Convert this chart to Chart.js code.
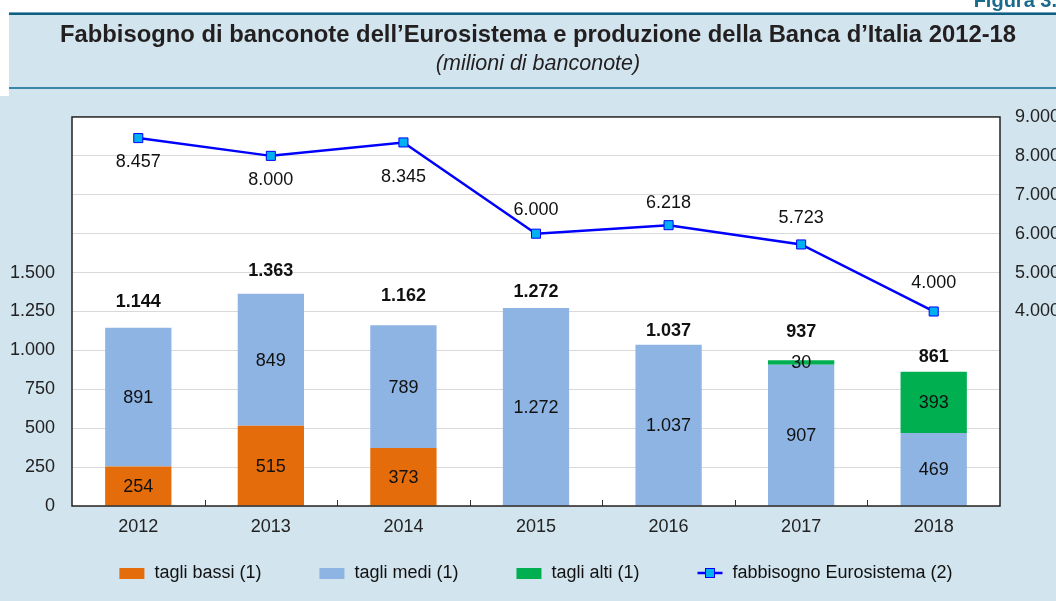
<!DOCTYPE html>
<html>
<head>
<meta charset="utf-8">
<script src="https://cdn.jsdelivr.net/npm/chart.js@4.4.1/dist/chart.umd.min.js"></script>
<style>
  html, body { margin: 0; padding: 0; background: #d2e4ee; overflow: hidden; }
  canvas { display: block; }
</style>
</head>
<body>
<canvas id="myChart" width="1056" height="601"></canvas>
<script>
const anni = ['2012', '2013', '2014', '2015', '2016', '2017', '2018'];
const tagliBassi = [254, 515, 373, null, null, null, null];
const tagliMedi = [891, 849, 789, 1272, 1037, 907, 469];
const tagliAlti = [null, null, null, null, null, 30, 393];
const totali = [1144, 1363, 1162, 1272, 1037, 937, 861];
const fabbisogno = [8457, 8000, 8345, 6000, 6218, 5723, 4000];
const tickSinistra = [0, 250, 500, 750, 1000, 1250, 1500];
const tickDestra = [4000, 5000, 6000, 7000, 8000, 9000];

const FONT = '"Liberation Sans", Arial, sans-serif';
const fmt = n => String(n).replace(/\B(?=(\d{3})+(?!\d))/g, '.');

// sfondo, fasce del titolo, area bianca
const sfondo = {
  id: 'sfondo',
  beforeDraw(chart) {
    const { ctx, width, height, chartArea: a } = chart;
    ctx.save();
    ctx.fillStyle = '#d2e4ee';
    ctx.fillRect(0, 0, width, height);
    ctx.fillStyle = '#ffffff';
    ctx.fillRect(0, 0, width, 12);
    ctx.fillRect(0, 0, 9, 96);
    ctx.fillStyle = '#0f5f82';
    ctx.fillRect(9, 12.5, width, 2.5);
    ctx.fillStyle = '#3b87aa';
    ctx.fillRect(9, 87, width, 2);
    ctx.fillStyle = '#ffffff';
    ctx.fillRect(a.left, a.top, a.right - a.left, a.bottom - a.top);
    ctx.fillStyle = '#1a6a8e';
    ctx.font = 'bold 20px ' + FONT;
    ctx.textAlign = 'right';
    ctx.textBaseline = 'alphabetic';
    ctx.fillText('Figura 3.', width + 1, 7);
    ctx.restore();
  },
  afterDatasetsDraw(chart) {
    const { ctx, chartArea: a, scales: { x } } = chart;
    ctx.save();
    // tacche tra le categorie
    ctx.strokeStyle = '#333';
    ctx.lineWidth = 1;
    const half = (x.getPixelForValue(1) - x.getPixelForValue(0)) / 2;
    for (let i = 0; i < anni.length - 1; i++) {
      const px = Math.round(x.getPixelForValue(i) + half) + 0.5;
      ctx.beginPath();
      ctx.moveTo(px, a.bottom);
      ctx.lineTo(px, a.bottom - 6);
      ctx.stroke();
    }
    ctx.strokeStyle = '#222';
    ctx.lineWidth = 1.5;
    ctx.strokeRect(a.left, a.top, a.right - a.left, a.bottom - a.top);
    ctx.restore();
  }
};

// etichette dei valori
const etichette = {
  id: 'etichette',
  afterDatasetsDraw(chart) {
    const { ctx, scales: { x, y, yDestra } } = chart;
    const offTotali = [26, 23, 29, 16, 14, 28, 15];
    const offLinea = [24, 24, 35, -24, -22, -26, -28];
    ctx.save();
    ctx.textAlign = 'center';
    ctx.textBaseline = 'middle';
    ctx.fillStyle = '#111';
    ctx.font = '18px ' + FONT;
    [1, 2, 3].forEach(di => {
      const meta = chart.getDatasetMeta(di);
      meta.data.forEach((bar, i) => {
        const v = chart.data.datasets[di].data[i];
        if (v == null) return;
        ctx.fillText(fmt(v), bar.x, (bar.y + bar.base) / 2 + 1);
      });
    });
    ctx.font = 'bold 18px ' + FONT;
    totali.forEach((t, i) => {
      const top = y.getPixelForValue((tagliBassi[i] || 0) + (tagliMedi[i] || 0) + (tagliAlti[i] || 0));
      ctx.fillText(fmt(t), x.getPixelForValue(i), top - offTotali[i]);
    });
    ctx.font = '18px ' + FONT;
    fabbisogno.forEach((v, i) => {
      ctx.fillText(fmt(v), x.getPixelForValue(i), yDestra.getPixelForValue(v) + offLinea[i]);
    });
    ctx.restore();
  }
};

// legenda disegnata sotto il grafico
const legenda = {
  id: 'legenda',
  afterDraw(chart) {
    const { ctx, chartArea: a } = chart;
    const items = [1, 2, 3, 0].map(i => chart.data.datasets[i]);
    ctx.save();
    ctx.font = '18px ' + FONT;
    ctx.textBaseline = 'middle';
    ctx.textAlign = 'left';
    const box = 25, gapText = 10, gapItem = 58, cy = 573;
    const widths = items.map(d => box + gapText + ctx.measureText(d.label).width);
    const total = widths.reduce((s, w) => s + w, 0) + gapItem * (items.length - 1);
    let cx = (a.left + a.right) / 2 - total / 2;
    items.forEach((d, k) => {
      if (d.type === 'line') {
        ctx.strokeStyle = d.borderColor;
        ctx.lineWidth = 2.5;
        ctx.beginPath();
        ctx.moveTo(cx, cy);
        ctx.lineTo(cx + box, cy);
        ctx.stroke();
        ctx.fillStyle = d.pointBackgroundColor;
        ctx.fillRect(cx + box / 2 - 4.5, cy - 4.5, 9, 9);
        ctx.lineWidth = 1;
        ctx.strokeRect(cx + box / 2 - 4.5, cy - 4.5, 9, 9);
      } else {
        ctx.fillStyle = d.backgroundColor;
        ctx.fillRect(cx, cy - 5, box, 11);
      }
      ctx.fillStyle = '#111';
      ctx.fillText(d.label, cx + box + gapText, cy);
      cx += widths[k] + gapItem;
    });
    ctx.restore();
  }
};

const ctx = document.getElementById('myChart').getContext('2d');

const myChart = new Chart(ctx, {
  type: 'bar',
  data: {
    labels: anni,
    datasets: [{
      type: 'line',
      label: 'fabbisogno Eurosistema (2)',
      data: fabbisogno,
      yAxisID: 'yDestra',
      borderColor: '#0000ff',
      borderWidth: 2.5,
      pointStyle: 'rect',
      pointRadius: 6.4,
      pointBackgroundColor: '#00b0f0',
      pointBorderColor: '#0000ff',
      pointBorderWidth: 1,
      tension: 0,
      order: 0
    }, {
      label: 'tagli bassi (1)',
      data: tagliBassi,
      backgroundColor: '#e46c0a',
      stack: 'banconote',
      order: 1
    }, {
      label: 'tagli medi (1)',
      data: tagliMedi,
      backgroundColor: '#8eb4e3',
      stack: 'banconote',
      order: 1
    }, {
      label: 'tagli alti (1)',
      data: tagliAlti,
      backgroundColor: '#00b050',
      stack: 'banconote',
      order: 1
    }]
  },
  options: {
    responsive: false,
    animation: false,
    datasets: {
      bar: { barPercentage: 0.5, categoryPercentage: 1.0 }
    },
    // il riquadro si estende oltre il bordo destro (etichette tagliate)
    layout: { padding: { left: 0, right: -20, top: 0, bottom: 0 } },
    plugins: {
      legend: { display: false },
      tooltip: { enabled: false },
      title: {
        display: true,
        text: 'Fabbisogno di banconote dell\u2019Eurosistema e produzione della Banca d\u2019Italia 2012-18',
        color: '#231f20',
        font: { family: FONT, size: 23.8, weight: 'bold' },
        padding: { top: 21, bottom: 1.5 }
      },
      subtitle: {
        display: true,
        text: '(milioni di banconote)',
        color: '#231f20',
        font: { family: FONT, size: 21.5, style: 'italic' },
        padding: { top: 0, bottom: 40.1 }
      }
    },
    scales: {
      x: {
        stacked: true,
        grid: { display: false, drawTicks: false },
        border: { display: false },
        ticks: { color: '#222', font: { family: FONT, size: 18 }, padding: 10 },
        afterFit(scale) { scale.height = 95; }
      },
      y: {
        stacked: true,
        position: 'left',
        min: 0,
        max: 2500,
        grid: { color: '#d9d9d9', drawTicks: false },
        border: { display: false },
        ticks: {
          stepSize: 250,
          color: '#222',
          font: { family: FONT, size: 18 },
          padding: 17,
          callback: v => tickSinistra.includes(v) ? fmt(v) : ''
        },
        afterFit(scale) { scale.width = 72; }
      },
      yDestra: {
        position: 'right',
        min: -1000,
        max: 9000,
        grid: { display: false, drawTicks: false },
        border: { display: false },
        ticks: {
          stepSize: 1000,
          color: '#222',
          font: { family: FONT, size: 18 },
          padding: 15,
          callback: v => tickDestra.includes(v) ? fmt(v) : ''
        },
        afterFit(scale) { scale.width = 76; }
      }
    }
  },
  plugins: [sfondo, etichette, legenda]
});
</script>
</body>
</html>
